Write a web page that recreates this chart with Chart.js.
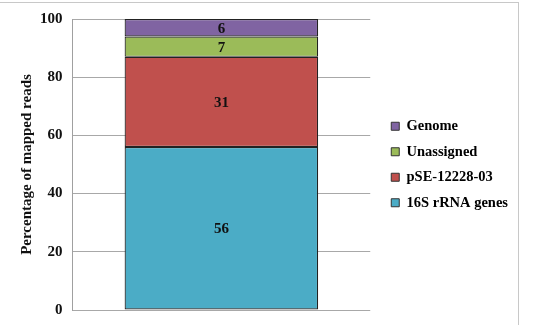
<!DOCTYPE html>
<html>
<head>
<meta charset="utf-8">
<script src="https://cdn.jsdelivr.net/npm/chart.js@4.4.1/dist/chart.umd.min.js"></script>
<style>
  html, body { margin: 0; padding: 0; background: #fff; }
  #wrap { position: relative; width: 541px; height: 325px; }
  #frame { position: absolute; left: -1px; top: 2px; width: 520px; height: 340px; border: 1px solid #c8c8c8; box-sizing: border-box; }
  canvas { position: absolute; left: 0; top: 0; }
</style>
</head>
<body>
<div id="wrap">
  <div id="frame"></div>
  <canvas id="chart" width="541" height="325"></canvas>
</div>
<script>
// Data
const categories = [''];
const seriesNames = ['16S rRNA genes', 'pSE-12228-03', 'Unassigned', 'Genome'];
const rrna = [56];
const plasmid = [31];
const unassigned = [7];
const genome = [6];
const colors = ['#4BACC6', '#C0504D', '#9BBB59', '#8064A2'];

const serif = "'Liberation Serif', 'DejaVu Serif', serif";

// Draw value labels inside each segment
const segmentLabels = {
  id: 'segmentLabels',
  afterDatasetsDraw(chart) {
    const ctx = chart.ctx;
    ctx.save();
    ctx.font = 'bold 15px ' + serif;
    ctx.fillStyle = '#111';
    ctx.textAlign = 'center';
    ctx.textBaseline = 'middle';
    chart.data.datasets.forEach((ds, i) => {
      chart.getDatasetMeta(i).data.forEach((bar, j) => {
        const mid = (bar.y + bar.base) / 2;
        ctx.fillText(ds.data[j], bar.x, mid + 1);
      });
    });
    ctx.restore();
  }
};

const allSeries = [rrna, plasmid, unassigned, genome];
const ctx = document.getElementById('chart');
new Chart(ctx, {
  type: 'bar',
  data: {
    labels: categories,
    datasets: allSeries.map((vals, i) => ({
      label: seriesNames[i],
      data: vals,
      backgroundColor: colors[i],
      borderColor: '#222',
      borderWidth: 1.2,
      borderSkipped: false,
      barPercentage: 0.65,
      categoryPercentage: 1
    }))
  },
  options: {
    responsive: false,
    animation: false,
    layout: { padding: { left: 14, top: 19, right: 23, bottom: 15 } },
    scales: {
      x: {
        stacked: true,
        display: false
      },
      y: {
        stacked: true,
        min: 0,
        max: 100,
        ticks: {
          stepSize: 20,
          padding: 10,
          color: '#111',
          font: { family: serif, size: 15, weight: 'bold', lineHeight: 0.6 }
        },
        grid: { color: '#a8a8a8', drawTicks: false },
        border: { color: '#a0a0a0' },
        title: {
          display: true,
          text: 'Percentage of mapped reads',
          color: '#111',
          font: { family: serif, size: 15, weight: 'bold' },
          padding: { top: 4, bottom: -6 }
        }
      },
      // empty spacer between plot and legend
      gap: {
        position: 'right',
        grid: { display: false },
        ticks: { display: false },
        border: { display: false },
        afterFit(scale) { scale.width = 10; }
      }
    },
    plugins: {
      tooltip: { enabled: false },
      legend: {
        position: 'right',
        reverse: true,
        maxWidth: 220,
        labels: {
          boxWidth: 8,
          boxHeight: 8,
          padding: 11,
          color: '#111',
          font: { family: serif, size: 14.5, weight: 'bold' },
          generateLabels(chart) {
            return chart.data.datasets.map((ds, i) => ({
              text: ds.label,
              fillStyle: ds.backgroundColor,
              strokeStyle: '#333',
              lineWidth: 1,
              datasetIndex: i
            }));
          }
        }
      }
    }
  },
  plugins: [segmentLabels]
});
</script>
</body>
</html>
